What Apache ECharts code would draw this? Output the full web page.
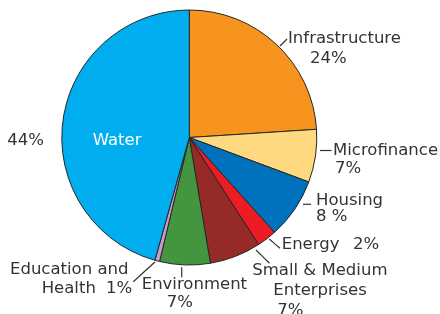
<!DOCTYPE html>
<html><head><meta charset="utf-8">
<script src="https://cdn.jsdelivr.net/npm/echarts@6/dist/echarts.min.js"></script>
<style>html,body{margin:0;padding:0;background:#fff}#c{width:440px;height:314px}</style>
</head><body><div id="c"></div>
<script>
// ---- data ----
const categories = ['Infrastructure', 'Microfinance', 'Housing', 'Energy', 'Small & Medium Enterprises', 'Environment', 'Education and Health', 'Water'];
// slice sizes (percent)
const shares = [24.0, 6.7, 7.7, 2.5, 6.5, 6.4, 0.6, 45.7];
// printed label text, line by line (segments within a line)
const labelLines = [
  [['Infrastructure'], ['24%']],
  [['Microfinance'], ['7%']],
  [['Housing'], ['8 %']],
  [['Energy', '2%']],
  [['Small & Medium'], ['Enterprises'], ['7%']],
  [['Environment'], ['7%']],
  [['Education and'], ['Health', '1%']],
  [['44%', 'Water']]
];

// ---- style / layout ----
const colors = ['#f7941d', '#fed97f', '#0071bc', '#ed1c24', '#952a26', '#43963f', '#c99bcd', '#00adef'];
const TEXT = '#333333';
const FONT = 'DejaVu Sans';
const FS = 16.5;
const BASE_OFF = 5.5;
const segX = [
  [[288], [310]],
  [[333], [335]],
  [[316], [316]],
  [[281.7, 353]],
  [[252.3], [273.3], [277.3]],
  [[141.7], [166.7]],
  [[10], [41.7, 106]],
  [[7.3, 92.7]]
];
const firstBaseline = [44.5, 156.7, 206.7, 250.7, 276.7, 290, 275, 146.5];
const lineH = [19.5, 17.5, 16, 18, 20, 18.3, 19.3, 18];
const segColor = { '7_0_1': '#ffffff' };
const leaders = [
  [[280, 46], [283.5, 42.5], [287, 39]],
  [[320, 150.5], [326, 150.5], [331.5, 150.5]],
  [[303, 204.3], [307, 204.3], [311, 204.3]],
  [[269.3, 239], [274.6, 243.6], [280, 248.3]],
  [[256, 250], [262.7, 256.7], [269.5, 263.3]],
  [[181.7, 267.3], [181.7, 272.3], [181.7, 277.3]],
  [[133.3, 281.7], [144.2, 271.8], [155, 262]],
  null
];

function minX(i) { return Math.min.apply(null, segX[i].map(l => l[0])); }

const data = categories.map((name, i) => {
  const mx = minX(i);
  const rich = {};
  const lines = labelLines[i].map((segs, li) => segs.map((t, si) => {
    const key = 't' + li + '_' + si;
    const st = {
      fontFamily: FONT, fontSize: FS, lineHeight: lineH[i], align: 'left',
      color: segColor[i + '_' + li + '_' + si] || TEXT
    };
    const x0 = segX[i][li][si];
    if (si === 0 && x0 - mx > 0) st.padding = [0, 0, 0, x0 - mx];
    if (si < segs.length - 1) st.width = segX[i][li][si + 1] - x0;
    rich[key] = st;
    return '{' + key + '|' + t + '}';
  }).join(''));
  const text = lines.join('\n');
  return {
    name: name,
    value: shares[i],
    itemStyle: { color: colors[i] },
    label: { formatter: () => text, rich: rich },
    labelLine: { show: !!leaders[i] }
  };
});

const chart = echarts.init(document.getElementById('c'), null, { renderer: 'canvas' });
chart.setOption({
  animation: false,
  backgroundColor: '#ffffff',
  series: [{
    type: 'pie',
    center: [189.3, 137.5],
    radius: 127.5,
    startAngle: 90,
    clockwise: true,
    avoidLabelOverlap: false,
    silent: true,
    itemStyle: { borderColor: '#262626', borderWidth: 1 },
    label: {
      show: true, position: 'outside', overflow: 'none',
      fontFamily: FONT, fontSize: FS, color: TEXT
    },
    labelLine: { show: true, length: 5, length2: 5, lineStyle: { color: '#333333', width: 1.2 } },
    labelLayout: function (p) {
      const i = p.dataIndex;
      const res = {
        x: minX(i),
        y: firstBaseline[i] - BASE_OFF - lineH[i] / 2,
        align: 'left',
        verticalAlign: 'top'
      };
      if (leaders[i]) res.labelLinePoints = leaders[i];
      return res;
    },
    data: data
  }]
});
</script>
</body></html>
